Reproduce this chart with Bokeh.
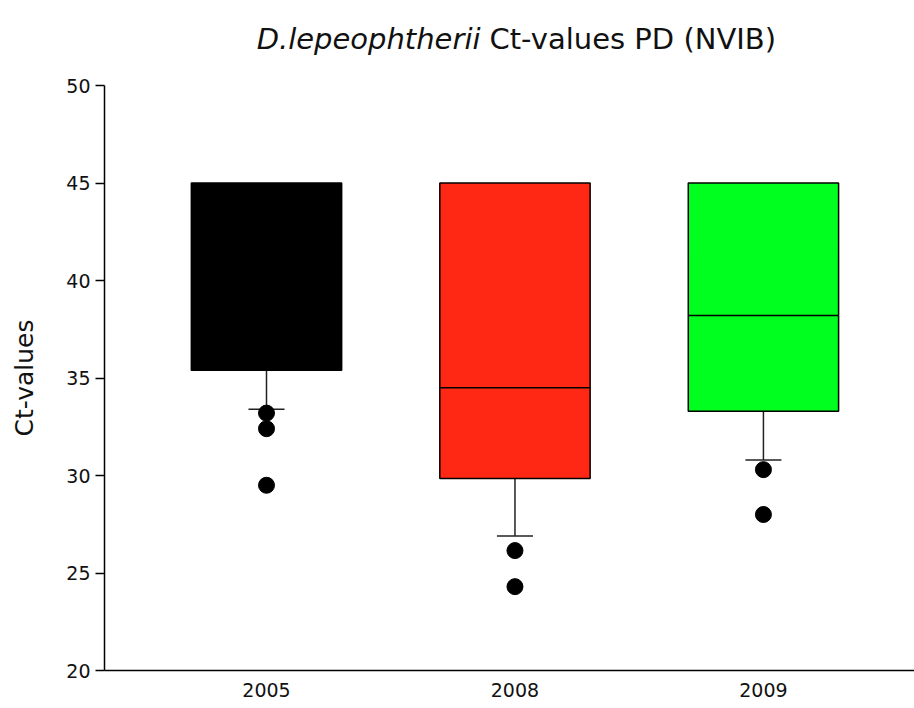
from bokeh.plotting import figure
from bokeh.layouts import column
from bokeh.models import Range1d, FixedTicker
from bokeh.core.properties import value
from bokeh.embed import file_html
from bokeh.resources import INLINE

categories = ["2005", "2008", "2009"]
q1 = [35.4, 29.85, 33.3]
q3 = [45.0, 45.0, 45.0]
medians = [41.0, 34.5, 38.2]
lower_whisker = [33.4, 26.9, 30.8]
outlier_groups = [[33.2, 32.4, 29.5], [26.15, 24.3], [30.3, 28.0]]
colors = ["#000000", "#FF2814", "#00FF1E"]
y_ticks = [20, 25, 30, 35, 40, 45, 50]
title_italic = "D.lepeophtherii"
title_rest = "Ct-values PD (NVIB)"

FONT = "DejaVu Sans"
xs = [i + 1 for i in range(len(categories))]

W = 914
TITLE_H = 75
MAIN_H = 633
BL, BB, BT = 104, 38, 10

# --- title strip: its frame is aligned with the main plot frame (x = page pixels) ---
t = figure(width=W, height=TITLE_H, output_backend="svg", toolbar_location=None,
           x_range=Range1d(BL, W), y_range=Range1d(0, TITLE_H),
           x_axis_type=None, y_axis_type=None, min_border=0,
           min_border_left=BL, min_border_right=0)
t.xgrid.visible = False
t.ygrid.visible = False
t.outline_line_color = None
t.text(x=[480], y=[TITLE_H - 38], text=[title_italic], text_font=value(FONT),
       text_font_style="italic", text_font_size="29px", text_align="right",
       text_baseline="alphabetic", text_color="#111111")
t.text(x=[489], y=[TITLE_H - 38], text=[title_rest], text_font=value(FONT),
       text_font_size="29px", text_align="left",
       text_baseline="alphabetic", text_color="#111111")

# --- main plot ---
p = figure(width=W, height=MAIN_H, output_backend="svg", toolbar_location=None,
           x_range=Range1d(0.348, 3.608), y_range=Range1d(20, 50),
           min_border_left=BL, min_border_right=0, min_border_top=BT, min_border_bottom=BB)
p.xgrid.visible = False
p.ygrid.visible = False
p.outline_line_color = None
p.background_fill_color = "white"

box_w = 0.605
cap_w = 0.145
# whiskers
p.segment(x0=xs, y0=q1, x1=xs, y1=lower_whisker, line_color="#222222", line_width=1.5)
p.segment(x0=[x - cap_w / 2 for x in xs], y0=lower_whisker,
          x1=[x + cap_w / 2 for x in xs], y1=lower_whisker, line_color="#222222", line_width=1.5)
# boxes
p.vbar(x=xs, width=box_w, bottom=q1, top=q3, fill_color=colors, line_color="black", line_width=1.5)
# medians
p.segment(x0=[x - box_w / 2 for x in xs], y0=medians, x1=[x + box_w / 2 for x in xs], y1=medians,
          line_color="black", line_width=1.5)
# outliers
ox, oy = [], []
for x, grp in zip(xs, outlier_groups):
    for v in grp:
        ox.append(x)
        oy.append(v)
p.scatter(ox, oy, size=16, fill_color="black", line_color="black")

# axes
ya = p.yaxis[0]
ya.ticker = FixedTicker(ticks=y_ticks)
ya.minor_tick_line_color = None
ya.major_tick_out = 9
ya.major_tick_in = 0
ya.axis_line_width = 1.5
ya.major_tick_line_width = 1.5
ya.major_label_text_font = FONT
ya.major_label_text_font_size = "19px"
ya.major_label_text_color = "#111111"
ya.major_label_standoff = 5
ya.axis_label = "Ct-values"
ya.axis_label_text_font = FONT
ya.axis_label_text_font_style = "normal"
ya.axis_label_text_font_size = "25px"
ya.axis_label_text_color = "#111111"
ya.axis_label_standoff = 24

xa = p.xaxis[0]
xa.ticker = FixedTicker(ticks=xs)
xa.major_label_overrides = {x: c for x, c in zip(xs, categories)}
xa.minor_tick_line_color = None
xa.major_tick_line_color = None
xa.major_tick_out = 0
xa.major_tick_in = 0
xa.axis_line_width = 1.5
xa.major_label_text_font = FONT
xa.major_label_text_font_size = "19px"
xa.major_label_text_color = "#111111"
xa.major_label_standoff = 12

layout = column(t, p, spacing=0)
open("out.html", "w").write(file_html(layout, INLINE))
